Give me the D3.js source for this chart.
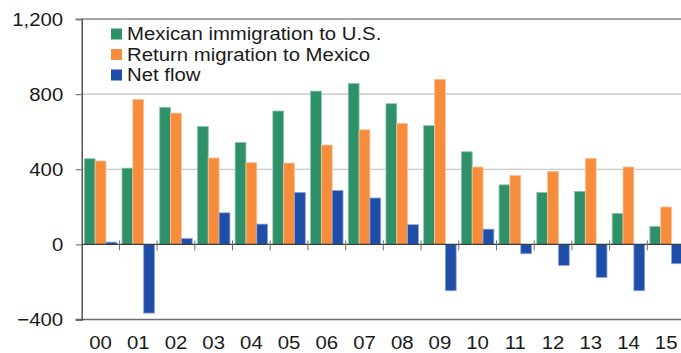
<!DOCTYPE html>
<html>
<head>
<meta charset="utf-8">
<script src="https://cdn.jsdelivr.net/npm/d3@7"></script>
<style>
  html, body { margin: 0; padding: 0; background: #fff; }
  svg { display: block; font-family: "Liberation Sans", Arial, sans-serif; }
</style>
</head>
<body>
<svg id="chart" width="681" height="353"></svg>
<script>
// Years (two-digit labels)
const years = ["00","01","02","03","04","05","06","07","08","09","10","11","12","13","14","15"];
// Flows in thousands
const immigration = [456, 406, 730, 628, 543, 710, 816, 857, 749, 632, 493, 317, 277, 282, 165, 96];
const returnMigration = [444, 772, 699, 460, 435, 433, 529, 610, 644, 879, 412, 367, 389, 458, 412, 199];
const netFlow = [12, -366, 31, 168, 108, 277, 287, 247, 105, -247, 81, -50, -112, -176, -247, -103];
const yTicks = [-400, 0, 400, 800, 1200];

const seriesNames = ["Mexican immigration to U.S.", "Return migration to Mexico", "Net flow"];
const seriesValues = [immigration, returnMigration, netFlow];
const fills = ["#2f9169", "#f68c3c", "#1f4ea8"];
const strokes = ["#8cc7ad", "#fbc59b", "#8fa7d6"];

const FONT = 18.5, WIDEN = 1.1;

const svg = d3.select("#chart");
const plotLeft = 81.7, plotRight = 685, plotTop = 19, plotBottom = 319.5;

const x = d3.scaleBand().domain(years).range([plotLeft, plotRight]).paddingInner(0).paddingOuter(0);
const inner = d3.scaleBand().domain(d3.range(3)).range([2.6, x.bandwidth() - 2.6]).padding(0);
const y = d3.scaleLinear().domain([-400, 1200]).range([plotBottom, plotTop]);

// Light horizontal gridlines
svg.append("g").selectAll("line")
  .data([400, 800])
  .join("line")
  .attr("x1", plotLeft).attr("x2", 681)
  .attr("y1", d => y(d)).attr("y2", d => y(d))
  .attr("stroke", "#bdbdbd").attr("stroke-width", 1.2);

// Bars
seriesValues.forEach((vals, s) => {
  svg.append("g").selectAll("rect")
    .data(vals)
    .join("rect")
    .attr("x", (d, i) => x(years[i]) + inner(s))
    .attr("width", inner.bandwidth())
    .attr("y", d => y(Math.max(0, d)))
    .attr("height", d => Math.abs(y(d) - y(0)))
    .attr("fill", fills[s])
    .attr("stroke", strokes[s])
    .attr("stroke-width", 0.8);
});

// Top border and bottom line
svg.append("line").attr("x1", plotLeft).attr("x2", 681)
  .attr("y1", y(1200)).attr("y2", y(1200))
  .attr("stroke", "#4a4a4a").attr("stroke-width", 1.2);
svg.append("line").attr("x1", plotLeft - 6).attr("x2", 681)
  .attr("y1", y(-400)).attr("y2", y(-400))
  .attr("stroke", "#6a6e72").attr("stroke-width", 1.4);

// Zero line
svg.append("line").attr("x1", plotLeft).attr("x2", 681)
  .attr("y1", y(0)).attr("y2", y(0))
  .attr("stroke", "#3c3c3c").attr("stroke-width", 1.3);

// Category separators on the zero line
svg.append("g").selectAll("line")
  .data(years.slice(1))
  .join("line")
  .attr("x1", d => x(d)).attr("x2", d => x(d))
  .attr("y1", y(0) - 4).attr("y2", y(0) + 6)
  .attr("stroke", "#6e6e6e").attr("stroke-width", 1);

// Y axis
const yAxis = d3.axisLeft(y).tickValues(yTicks).tickSize(6).tickPadding(12)
  .tickFormat(d3.format(","));
const gy = svg.append("g").attr("transform", `translate(${plotLeft},0)`).call(yAxis);
gy.select(".domain").attr("stroke", "#3c3c3c").attr("stroke-width", 1.3);
gy.selectAll(".tick line").attr("stroke", "#7a7a7a").attr("stroke-width", 1.2);
gy.selectAll(".tick text").attr("font-size", FONT).attr("fill", "#1a1a1a")
  .attr("font-family", "Liberation Sans, Arial, sans-serif")
  .attr("x", 0).attr("dy", "0.34em")
  .attr("transform", `translate(-18.5,0) scale(${WIDEN},1)`);

// X labels
const xAxis = d3.axisBottom(x).tickSize(0).tickPadding(16);
const gx = svg.append("g").attr("transform", `translate(0,${plotBottom})`).call(xAxis);
gx.select(".domain").remove();
gx.selectAll(".tick text").attr("font-size", FONT).attr("fill", "#1a1a1a")
  .attr("font-family", "Liberation Sans, Arial, sans-serif")
  .attr("transform", `scale(${WIDEN},1)`);

// Legend
const legend = svg.append("g");
seriesNames.forEach((name, i) => {
  const cy = 34 + i * 20.5;
  legend.append("rect").attr("x", 111).attr("y", cy - 5.5).attr("width", 11).attr("height", 11)
    .attr("fill", fills[i]);
  legend.append("text")
    .attr("transform", `translate(127,${cy}) scale(${WIDEN},1)`)
    .attr("dy", "0.35em")
    .attr("font-size", FONT).attr("fill", "#1a1a1a").text(name);
});
</script>
</body>
</html>
